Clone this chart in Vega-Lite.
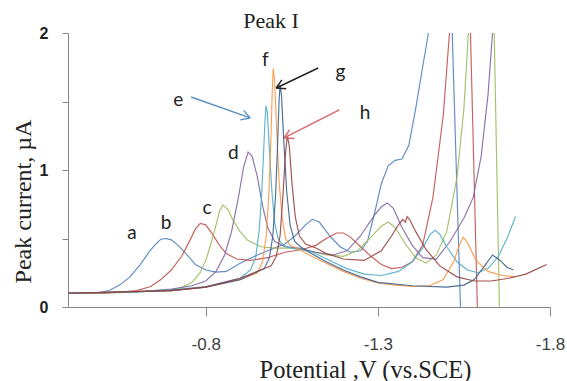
{
 "$schema": "https://vega.github.io/schema/vega-lite/v6.json",
 "width": 482, "height": 274,
 "autosize": {"type": "none"},
 "padding": {"left": 68, "top": 33, "right": 17, "bottom": 74},
 "background": "white",
 "config": {"view": {"stroke": null}, "axis": {"grid": false, "domainColor": "#868686", "tickColor": "#868686", "labelFlush": false, "labelOverlap": false}},
 "datasets": {
  "curves": [
   {"s":"a","v":-0.40,"i":0.10},{"s":"a","v":-0.45,"i":0.10},{"s":"a","v":-0.49,"i":0.105},{"s":"a","v":-0.52,"i":0.12},{"s":"a","v":-0.55,"i":0.16},{"s":"a","v":-0.58,"i":0.22},{"s":"a","v":-0.61,"i":0.31},{"s":"a","v":-0.635,"i":0.40},{"s":"a","v":-0.655,"i":0.46},{"s":"a","v":-0.67,"i":0.495},{"s":"a","v":-0.685,"i":0.50},{"s":"a","v":-0.70,"i":0.49},{"s":"a","v":-0.72,"i":0.45},{"s":"a","v":-0.746,"i":0.38},{"s":"a","v":-0.77,"i":0.31},{"s":"a","v":-0.80,"i":0.27},{"s":"a","v":-0.83,"i":0.255},{"s":"a","v":-0.86,"i":0.26},{"s":"a","v":-0.90,"i":0.32},{"s":"a","v":-0.95,"i":0.38},{"s":"a","v":-1.00,"i":0.43},{"s":"a","v":-1.03,"i":0.46},{"s":"a","v":-1.06,"i":0.52},{"s":"a","v":-1.09,"i":0.60},{"s":"a","v":-1.11,"i":0.64},{"s":"a","v":-1.13,"i":0.62},{"s":"a","v":-1.16,"i":0.52},{"s":"a","v":-1.19,"i":0.44},{"s":"a","v":-1.22,"i":0.40},{"s":"a","v":-1.25,"i":0.41},{"s":"a","v":-1.27,"i":0.48},{"s":"a","v":-1.29,"i":0.68},{"s":"a","v":-1.31,"i":0.90},{"s":"a","v":-1.33,"i":1.03},{"s":"a","v":-1.35,"i":1.07},{"s":"a","v":-1.37,"i":1.08},{"s":"a","v":-1.39,"i":1.18},{"s":"a","v":-1.41,"i":1.45},{"s":"a","v":-1.43,"i":1.75},{"s":"a","v":-1.447,"i":2.0},{"s":"a","v":-1.48,"i":2.8},{"s":"a","v":-1.516,"i":2.0},{"s":"a","v":-1.54,"i":0.0},{"s":"a","v":-1.55,"i":-0.5},
   {"s":"b","v":-0.40,"i":0.10},{"s":"b","v":-0.50,"i":0.10},{"s":"b","v":-0.56,"i":0.11},{"s":"b","v":-0.60,"i":0.12},{"s":"b","v":-0.64,"i":0.15},{"s":"b","v":-0.67,"i":0.20},{"s":"b","v":-0.70,"i":0.27},{"s":"b","v":-0.73,"i":0.37},{"s":"b","v":-0.755,"i":0.49},{"s":"b","v":-0.77,"i":0.57},{"s":"b","v":-0.784,"i":0.61},{"s":"b","v":-0.80,"i":0.60},{"s":"b","v":-0.82,"i":0.53},{"s":"b","v":-0.84,"i":0.45},{"s":"b","v":-0.86,"i":0.39},{"s":"b","v":-0.89,"i":0.35},{"s":"b","v":-0.93,"i":0.34},{"s":"b","v":-0.98,"i":0.36},{"s":"b","v":-1.03,"i":0.40},{"s":"b","v":-1.08,"i":0.42},{"s":"b","v":-1.12,"i":0.45},{"s":"b","v":-1.15,"i":0.50},{"s":"b","v":-1.18,"i":0.54},{"s":"b","v":-1.20,"i":0.54},{"s":"b","v":-1.22,"i":0.51},{"s":"b","v":-1.25,"i":0.44},{"s":"b","v":-1.28,"i":0.37},{"s":"b","v":-1.31,"i":0.31},{"s":"b","v":-1.34,"i":0.28},{"s":"b","v":-1.37,"i":0.29},{"s":"b","v":-1.40,"i":0.33},{"s":"b","v":-1.43,"i":0.45},{"s":"b","v":-1.46,"i":0.80},{"s":"b","v":-1.49,"i":1.40},{"s":"b","v":-1.508,"i":2.0},{"s":"b","v":-1.54,"i":3.0},{"s":"b","v":-1.569,"i":2.0},{"s":"b","v":-1.589,"i":0.0},{"s":"b","v":-1.595,"i":-0.5},
   {"s":"c","v":-0.40,"i":0.10},{"s":"c","v":-0.55,"i":0.105},{"s":"c","v":-0.65,"i":0.115},{"s":"c","v":-0.72,"i":0.13},{"s":"c","v":-0.76,"i":0.18},{"s":"c","v":-0.784,"i":0.25},{"s":"c","v":-0.80,"i":0.34},{"s":"c","v":-0.815,"i":0.46},{"s":"c","v":-0.83,"i":0.60},{"s":"c","v":-0.84,"i":0.70},{"s":"c","v":-0.85,"i":0.745},{"s":"c","v":-0.865,"i":0.71},{"s":"c","v":-0.88,"i":0.63},{"s":"c","v":-0.90,"i":0.55},{"s":"c","v":-0.92,"i":0.49},{"s":"c","v":-0.96,"i":0.44},{"s":"c","v":-1.00,"i":0.43},{"s":"c","v":-1.05,"i":0.43},{"s":"c","v":-1.10,"i":0.41},{"s":"c","v":-1.15,"i":0.38},{"s":"c","v":-1.20,"i":0.37},{"s":"c","v":-1.24,"i":0.41},{"s":"c","v":-1.28,"i":0.51},{"s":"c","v":-1.31,"i":0.59},{"s":"c","v":-1.33,"i":0.62},{"s":"c","v":-1.35,"i":0.58},{"s":"c","v":-1.38,"i":0.46},{"s":"c","v":-1.41,"i":0.36},{"s":"c","v":-1.44,"i":0.32},{"s":"c","v":-1.47,"i":0.38},{"s":"c","v":-1.50,"i":0.55},{"s":"c","v":-1.53,"i":0.95},{"s":"c","v":-1.55,"i":1.45},{"s":"c","v":-1.563,"i":2.0},{"s":"c","v":-1.60,"i":2.8},{"s":"c","v":-1.638,"i":2.0},{"s":"c","v":-1.653,"i":0.0},{"s":"c","v":-1.657,"i":-0.5},
   {"s":"d","v":-0.40,"i":0.10},{"s":"d","v":-0.60,"i":0.11},{"s":"d","v":-0.70,"i":0.13},{"s":"d","v":-0.76,"i":0.155},{"s":"d","v":-0.80,"i":0.19},{"s":"d","v":-0.83,"i":0.26},{"s":"d","v":-0.855,"i":0.38},{"s":"d","v":-0.875,"i":0.55},{"s":"d","v":-0.895,"i":0.80},{"s":"d","v":-0.91,"i":1.02},{"s":"d","v":-0.923,"i":1.13},{"s":"d","v":-0.935,"i":1.10},{"s":"d","v":-0.95,"i":0.95},{"s":"d","v":-0.965,"i":0.74},{"s":"d","v":-0.98,"i":0.58},{"s":"d","v":-1.00,"i":0.48},{"s":"d","v":-1.03,"i":0.44},{"s":"d","v":-1.07,"i":0.43},{"s":"d","v":-1.12,"i":0.40},{"s":"d","v":-1.17,"i":0.38},{"s":"d","v":-1.21,"i":0.41},{"s":"d","v":-1.25,"i":0.52},{"s":"d","v":-1.29,"i":0.67},{"s":"d","v":-1.31,"i":0.73},{"s":"d","v":-1.327,"i":0.76},{"s":"d","v":-1.345,"i":0.72},{"s":"d","v":-1.37,"i":0.58},{"s":"d","v":-1.40,"i":0.45},{"s":"d","v":-1.43,"i":0.36},{"s":"d","v":-1.47,"i":0.35},{"s":"d","v":-1.51,"i":0.48},{"s":"d","v":-1.55,"i":0.65},{"s":"d","v":-1.577,"i":0.80},{"s":"d","v":-1.60,"i":1.10},{"s":"d","v":-1.62,"i":1.55},{"s":"d","v":-1.633,"i":2.0},{"s":"d","v":-1.66,"i":3.0},
   {"s":"e","v":-0.40,"i":0.10},{"s":"e","v":-0.60,"i":0.11},{"s":"e","v":-0.70,"i":0.125},{"s":"e","v":-0.80,"i":0.15},{"s":"e","v":-0.86,"i":0.185},{"s":"e","v":-0.90,"i":0.21},{"s":"e","v":-0.93,"i":0.27},{"s":"e","v":-0.945,"i":0.36},{"s":"e","v":-0.955,"i":0.55},{"s":"e","v":-0.962,"i":0.80},{"s":"e","v":-0.968,"i":1.12},{"s":"e","v":-0.972,"i":1.35},{"s":"e","v":-0.975,"i":1.47},{"s":"e","v":-0.979,"i":1.42},{"s":"e","v":-0.985,"i":1.15},{"s":"e","v":-0.992,"i":0.85},{"s":"e","v":-1.00,"i":0.62},{"s":"e","v":-1.01,"i":0.50},{"s":"e","v":-1.025,"i":0.45},{"s":"e","v":-1.05,"i":0.43},{"s":"e","v":-1.08,"i":0.42},{"s":"e","v":-1.11,"i":0.40},{"s":"e","v":-1.16,"i":0.34},{"s":"e","v":-1.21,"i":0.28},{"s":"e","v":-1.26,"i":0.24},{"s":"e","v":-1.31,"i":0.23},{"s":"e","v":-1.36,"i":0.26},{"s":"e","v":-1.40,"i":0.33},{"s":"e","v":-1.43,"i":0.43},{"s":"e","v":-1.452,"i":0.53},{"s":"e","v":-1.467,"i":0.56},{"s":"e","v":-1.48,"i":0.53},{"s":"e","v":-1.50,"i":0.44},{"s":"e","v":-1.53,"i":0.33},{"s":"e","v":-1.56,"i":0.27},{"s":"e","v":-1.59,"i":0.25},{"s":"e","v":-1.62,"i":0.28},{"s":"e","v":-1.65,"i":0.37},{"s":"e","v":-1.675,"i":0.50},{"s":"e","v":-1.70,"i":0.66},
   {"s":"f","v":-0.40,"i":0.10},{"s":"f","v":-0.70,"i":0.12},{"s":"f","v":-0.80,"i":0.145},{"s":"f","v":-0.90,"i":0.20},{"s":"f","v":-0.95,"i":0.25},{"s":"f","v":-0.965,"i":0.33},{"s":"f","v":-0.975,"i":0.50},{"s":"f","v":-0.983,"i":0.80},{"s":"f","v":-0.989,"i":1.20},{"s":"f","v":-0.993,"i":1.55},{"s":"f","v":-0.996,"i":1.74},{"s":"f","v":-1.00,"i":1.65},{"s":"f","v":-1.006,"i":1.30},{"s":"f","v":-1.013,"i":0.92},{"s":"f","v":-1.022,"i":0.65},{"s":"f","v":-1.032,"i":0.50},{"s":"f","v":-1.045,"i":0.45},{"s":"f","v":-1.065,"i":0.43},{"s":"f","v":-1.10,"i":0.38},{"s":"f","v":-1.15,"i":0.32},{"s":"f","v":-1.20,"i":0.26},{"s":"f","v":-1.25,"i":0.21},{"s":"f","v":-1.30,"i":0.175},{"s":"f","v":-1.35,"i":0.16},{"s":"f","v":-1.40,"i":0.15},{"s":"f","v":-1.45,"i":0.155},{"s":"f","v":-1.49,"i":0.20},{"s":"f","v":-1.52,"i":0.33},{"s":"f","v":-1.538,"i":0.46},{"s":"f","v":-1.548,"i":0.51},{"s":"f","v":-1.56,"i":0.47},{"s":"f","v":-1.585,"i":0.34},{"s":"f","v":-1.62,"i":0.26},{"s":"f","v":-1.66,"i":0.23},{"s":"f","v":-1.70,"i":0.22},
   {"s":"g","v":-0.40,"i":0.10},{"s":"g","v":-0.70,"i":0.12},{"s":"g","v":-0.80,"i":0.145},{"s":"g","v":-0.90,"i":0.20},{"s":"g","v":-0.97,"i":0.28},{"s":"g","v":-0.985,"i":0.36},{"s":"g","v":-0.995,"i":0.52},{"s":"g","v":-1.003,"i":0.82},{"s":"g","v":-1.009,"i":1.20},{"s":"g","v":-1.013,"i":1.50},{"s":"g","v":-1.016,"i":1.62},{"s":"g","v":-1.02,"i":1.55},{"s":"g","v":-1.027,"i":1.20},{"s":"g","v":-1.035,"i":0.85},{"s":"g","v":-1.045,"i":0.60},{"s":"g","v":-1.058,"i":0.48},{"s":"g","v":-1.075,"i":0.44},{"s":"g","v":-1.10,"i":0.40},{"s":"g","v":-1.15,"i":0.33},{"s":"g","v":-1.20,"i":0.27},{"s":"g","v":-1.25,"i":0.22},{"s":"g","v":-1.30,"i":0.18},{"s":"g","v":-1.40,"i":0.155},{"s":"g","v":-1.50,"i":0.145},{"s":"g","v":-1.55,"i":0.16},{"s":"g","v":-1.58,"i":0.20},{"s":"g","v":-1.61,"i":0.30},{"s":"g","v":-1.633,"i":0.38},{"s":"g","v":-1.655,"i":0.34},{"s":"g","v":-1.675,"i":0.29},{"s":"g","v":-1.694,"i":0.27},
   {"s":"h","v":-0.40,"i":0.10},{"s":"h","v":-0.70,"i":0.12},{"s":"h","v":-0.80,"i":0.145},{"s":"h","v":-0.90,"i":0.21},{"s":"h","v":-0.99,"i":0.30},{"s":"h","v":-1.005,"i":0.37},{"s":"h","v":-1.016,"i":0.52},{"s":"h","v":-1.024,"i":0.80},{"s":"h","v":-1.031,"i":1.10},{"s":"h","v":-1.037,"i":1.25},{"s":"h","v":-1.043,"i":1.17},{"s":"h","v":-1.05,"i":0.92},{"s":"h","v":-1.06,"i":0.66},{"s":"h","v":-1.072,"i":0.52},{"s":"h","v":-1.09,"i":0.46},{"s":"h","v":-1.12,"i":0.43},{"s":"h","v":-1.15,"i":0.39},{"s":"h","v":-1.20,"i":0.35},{"s":"h","v":-1.26,"i":0.34},{"s":"h","v":-1.31,"i":0.41},{"s":"h","v":-1.34,"i":0.52},{"s":"h","v":-1.36,"i":0.60},{"s":"h","v":-1.372,"i":0.64},{"s":"h","v":-1.38,"i":0.62},{"s":"h","v":-1.385,"i":0.66},{"s":"h","v":-1.392,"i":0.64},{"s":"h","v":-1.41,"i":0.55},{"s":"h","v":-1.44,"i":0.42},{"s":"h","v":-1.48,"i":0.30},{"s":"h","v":-1.53,"i":0.22},{"s":"h","v":-1.58,"i":0.19},{"s":"h","v":-1.63,"i":0.19},{"s":"h","v":-1.68,"i":0.21},{"s":"h","v":-1.73,"i":0.24},{"s":"h","v":-1.79,"i":0.31}
  ],
  "arrows": [
   {"k":"e","v":-0.7576,"i":1.533,"v2":-0.929,"i2":1.380},
   {"k":"e","v":-0.929,"i":1.380,"v2":-0.9102,"i2":1.435},
   {"k":"e","v":-0.929,"i":1.380,"v2":-0.9006,"i2":1.366},
   {"k":"g","v":-1.1267,"i":1.7445,"v2":-1.0047,"i2":1.5985},
   {"k":"g","v":-1.0047,"i":1.5985,"v2":-1.0337,"i2":1.5927},
   {"k":"g","v":-1.0047,"i":1.5985,"v2":-1.0212,"i2":1.6584},
   {"k":"h","v":-1.1878,"i":1.438,"v2":-1.0279,"i2":1.2336},
   {"k":"h","v":-1.0279,"i":1.2336,"v2":-1.0570,"i2":1.2299},
   {"k":"h","v":-1.0279,"i":1.2336,"v2":-1.0439,"i2":1.2949}
  ],
  "labels": [
   {"t":"a","v":-0.586,"i":0.54},
   {"t":"b","v":-0.685,"i":0.613},
   {"t":"c","v":-0.804,"i":0.723},
   {"t":"d","v":-0.880,"i":1.124},
   {"t":"e","v":-0.720,"i":1.511},
   {"t":"f","v":-0.973,"i":1.803},
   {"t":"g","v":-1.191,"i":1.715},
   {"t":"h","v":-1.263,"i":1.416}
  ],
  "heading": [
   {"t":"Peak I","v":-0.990,"i":2.036}
  ]
 },
 "encoding": {
  "x": {"field": "v", "type": "quantitative",
   "scale": {"domain": [-1.8, -0.4], "reverse": true, "nice": false, "zero": false},
   "axis": {"values": [-0.8, -1.3, -1.8], "labelExpr": "'-' + format(abs(datum.value), '.1f')", "labelFont": "Liberation Sans", "labelFontSize": 17, "labelColor": "#404040", "tickSize": 9, "labelPadding": 20,
    "title": "Potential ,V (vs.SCE)", "titleFont": "Liberation Serif", "titleFontSize": 24.5, "titleFontWeight": "normal", "titleColor": "#222", "titleX": 297, "titleY": 70, "titleBaseline": "alphabetic", "titleAlign": "center"}},
  "y": {"field": "i", "type": "quantitative",
   "scale": {"domain": [0, 2], "nice": false},
   "axis": {"values": [0, 0.5, 1, 1.5, 2], "labelExpr": "datum.value % 1 === 0 ? format(datum.value, 'd') : ''", "labelFont": "Liberation Sans", "labelFontSize": 16, "labelFontWeight": "bold", "labelColor": "#222", "tickSize": 6, "labelPadding": 14,
    "title": "Peak  current, µA", "titleFont": "Liberation Serif", "titleFontSize": 24, "titleFontWeight": "normal", "titleColor": "#222", "titleX": -38, "titleY": 168, "titleAngle": -90, "titleBaseline": "alphabetic", "titleAlign": "center"}}
 },
 "layer": [
  {"data": {"name": "curves"},
   "mark": {"type": "line", "clip": true, "strokeWidth": 1.15, "opacity": 0.9},
   "encoding": {"color": {"field": "s", "type": "nominal", "legend": null,
     "scale": {"domain": ["a","b","c","d","e","f","g","h"], "range": ["#4F81BD","#C0504D","#9BBB59","#8064A2","#4BACC6","#F79646","#3C5E8C","#94403E"]}}}},
  {"data": {"name": "arrows"},
   "mark": {"type": "rule", "strokeWidth": 1.4},
   "encoding": {"x2": {"field": "v2"}, "y2": {"field": "i2"},
    "color": {"field": "k", "type": "nominal", "legend": null, "scale": {"domain": ["e","g","h"], "range": ["#5A8FC0","#222222","#D9686A"]}}}},
  {"data": {"name": "labels"},
   "mark": {"type": "text", "font": "Lato", "fontSize": 19, "color": "#222", "align": "center", "baseline": "middle"},
   "encoding": {"text": {"field": "t"}}},
  {"data": {"name": "heading"},
   "mark": {"type": "text", "font": "Liberation Serif", "fontSize": 22, "color": "#222", "align": "center", "baseline": "alphabetic", "clip": false},
   "encoding": {"text": {"field": "t"}}}
 ],
 "resolve": {"scale": {"color": "independent"}}
}
